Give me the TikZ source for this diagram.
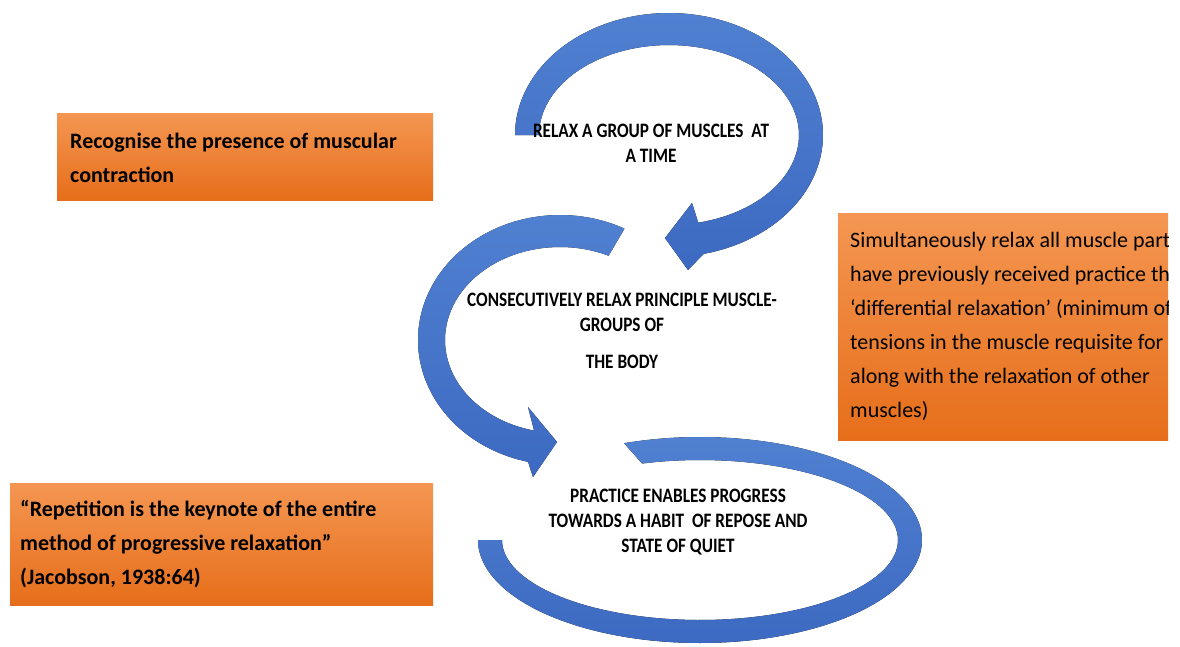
\documentclass[tikz,border=0pt]{standalone}
\usepackage{fontspec}
\setmainfont{Carlito}
\newfontfamily\condfont[FakeStretch=0.84]{Carlito}
\definecolor{arrowtop}{RGB}{80,128,208}
\definecolor{arrowbot}{RGB}{60,106,194}
\definecolor{orangetop}{RGB}{244,150,82}
\definecolor{orangebot}{RGB}{230,110,26}
\begin{document}
\begin{tikzpicture}[x=1pt,y=-1pt,
  obox/.style={top color=orangetop, bottom color=orangebot, draw=none, inner sep=0pt},
  arrowshape/.style={top color=arrowtop, bottom color=arrowbot, draw=none},
  boxtext/.style={anchor=west, inner sep=0pt, align=left, text=black},
  ctext/.style={align=center, inner sep=0pt, text=black, font=\condfont\bfseries\fontsize{20.5}{25}\selectfont}
]
\useasboundingbox (0,0) rectangle (1180,646);
\fill[white] (0,0) rectangle (1180,646);

% orange boxes
\node[obox, anchor=north west, minimum width=376, minimum height=87] (recogbox) at (57,113) {};
\node[obox, anchor=north west, minimum width=330, minimum height=227] (simbox) at (838,213) {};
\node[obox, anchor=north west, minimum width=423, minimum height=122] (repbox) at (10,483) {};

% box texts
\node[boxtext, font=\bfseries\fontsize{22}{34}\selectfont] (recogtext) at ([xshift=13,yshift=-1]recogbox.west) {Recognise the presence of muscular\\contraction};
\begin{scope}
\clip (838,213) rectangle (1168,440);
\node[boxtext, font=\fontsize{22}{34}\selectfont] (simtext) at ([xshift=12]simbox.west) {Simultaneously relax all muscle parts\\have previously received practice the\\‘differential relaxation’ (minimum of\\tensions in the muscle requisite for\\along with the relaxation of other\\muscles)};
\end{scope}
\node[boxtext, font=\bfseries\fontsize{22}{34}\selectfont] (reptext) at ([xshift=10]repbox.west) {“Repetition is the keynote of the entire\\method of progressive relaxation”\\(Jacobson, 1938:64)};

% arrow 1 (top)
\fill[arrowshape] plot[domain=180:437, samples=90, variable=\t] ({669+154*cos(\t)},{135+122*sin(\t)})
  -- (688,270) -- (665,238) -- (692,203)
  -- plot[domain=437:180, samples=90, variable=\t] ({669+130*cos(\t)},{135+90*sin(\t)}) -- cycle;

% arrow 2 (middle)
\fill[arrowshape] plot[domain=-63:-257, samples=90, variable=\t] ({560+142*cos(\t)},{340+125*sin(\t)})
  -- (533,477) -- (557,442) -- (528,407)
  -- plot[domain=-257:-65, samples=90, variable=\t] ({560+115*cos(\t)},{340+93*sin(\t)}) -- cycle;

% arrow 3 (bottom)
\fill[arrowshape] plot[domain=250:540, samples=120, variable=\t] ({700+222*cos(\t)},{540+103*sin(\t)})
  -- plot[domain=540:253, samples=120, variable=\t] ({700+198*cos(\t)},{540+80*sin(\t)}) -- cycle;

% centre texts
\node[ctext] (relaxtext) at (651,143) {RELAX A GROUP OF MUSCLES\ \ AT\\A TIME};
\node[ctext] (consectext) at (622,331) {CONSECUTIVELY RELAX PRINCIPLE MUSCLE-\\GROUPS OF\\[12pt]THE BODY};
\node[ctext] (practext) at (678,522) {PRACTICE ENABLES PROGRESS\\TOWARDS A HABIT\ \ OF REPOSE AND\\STATE OF QUIET};
\end{tikzpicture}
\end{document}
